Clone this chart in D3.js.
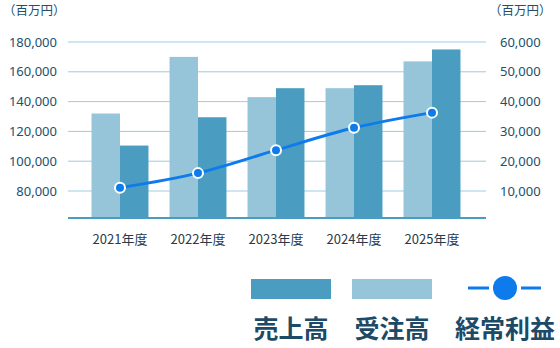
<!DOCTYPE html>
<meta charset="utf-8">
<style>
  body { margin: 0; background: #fff; }
  text { font-family: "Noto Sans CJK JP", "Noto Sans", sans-serif; }
  text.num { font-family: "Noto Sans", "Noto Sans CJK JP", sans-serif; }
</style>
<svg width="560" height="348"></svg>
<script src="https://d3js.org/d3.v7.min.js"></script>
<script>

    var years = ["2021年度", "2022年度", "2023年度", "2024年度", "2025年度"];
    var orders = [132000, 170000, 143000, 149000, 167000];   // 受注高
    var sales = [110500, 129500, 149000, 151000, 175000];    // 売上高
    var profit = [11100, 16000, 23700, 31200, 36300];        // 経常利益
    var leftTicks = [80000, 100000, 120000, 140000, 160000, 180000];
    var rightTicks = [10000, 20000, 30000, 40000, 50000, 60000];

    var svg = d3.select("svg");
    var darkBlue = "#4a9dc1",
        lightBlue = "#96c5da",
        lineBlue = "#0d7bec",
        textColor = "#21506d";

    var x = d3.scaleBand()
        .domain(years)
        .range([81, 471])
        .paddingInner(0.27)
        .paddingOuter(0.135);
    var x1 = d3.scaleBand()
        .domain(["orders", "sales"])
        .range([0, x.bandwidth()]);

    var yL = d3.scaleLinear().domain([60000, 180000]).range([220.8, 42]);
    var yR = d3.scaleLinear().domain([0, 60000]).range([220.8, 42]);
    var base = 218;

    // grid lines
    svg.append("g")
        .selectAll("line")
        .data(leftTicks)
        .enter().append("line")
        .attr("x1", 68).attr("x2", 486)
        .attr("y1", function(d) { return yL(d); })
        .attr("y2", function(d) { return yL(d); })
        .attr("stroke", "#9fcbdf")
        .attr("stroke-width", 1);

    // bars
    var groups = svg.append("g")
        .selectAll("g")
        .data(years)
        .enter().append("g")
        .attr("transform", function(d) { return "translate(" + x(d) + ",0)"; });

    groups.append("rect")
        .attr("x", x1("orders"))
        .attr("width", x1.bandwidth())
        .attr("y", function(d, i) { return yL(orders[i]); })
        .attr("height", function(d, i) { return base - yL(orders[i]); })
        .attr("fill", lightBlue);
    groups.append("rect")
        .attr("x", x1("sales"))
        .attr("width", x1.bandwidth())
        .attr("y", function(d, i) { return yL(sales[i]); })
        .attr("height", function(d, i) { return base - yL(sales[i]); })
        .attr("fill", darkBlue);

    // baseline
    svg.append("line")
        .attr("x1", 68).attr("x2", 486)
        .attr("y1", base).attr("y2", base)
        .attr("stroke", darkBlue)
        .attr("stroke-width", 2);

    // left axis labels
    svg.append("g")
        .selectAll("text")
        .data(leftTicks)
        .enter().append("text")
        .attr("class", "num")
        .attr("x", 57)
        .attr("y", function(d) { return yL(d) + 4.5; })
        .attr("text-anchor", "end")
        .attr("font-size", 13)
        .attr("fill", textColor)
        .text(d3.format(","));

    // right axis labels
    svg.append("g")
        .selectAll("text")
        .data(rightTicks)
        .enter().append("text")
        .attr("class", "num")
        .attr("x", 500)
        .attr("y", function(d) { return yR(d) + 4.5; })
        .attr("font-size", 13)
        .attr("fill", textColor)
        .text(d3.format(","));

    // units
    svg.append("text").attr("x", 3).attr("y", 15).attr("font-size", 12.5)
        .attr("fill", textColor).text("（百万円）");
    svg.append("text").attr("x", 489).attr("y", 15).attr("font-size", 12.5)
        .attr("fill", textColor).text("（百万円）");

    // x labels
    svg.append("g")
        .selectAll("text")
        .data(years)
        .enter().append("text")
        .attr("x", function(d) { return x(d) + x.bandwidth() / 2; })
        .attr("y", 244)
        .attr("text-anchor", "middle")
        .attr("font-size", 13)
        .attr("fill", "#2b3a48")
        .text(function(d) { return d; });

    // profit line
    var line = d3.line()
        .x(function(d, i) { return x(years[i]) + x.bandwidth() / 2; })
        .y(function(d) { return yR(d); })
        .curve(d3.curveMonotoneX);

    svg.append("path")
        .datum(profit)
        .attr("d", line)
        .attr("fill", "none")
        .attr("stroke", lineBlue)
        .attr("stroke-width", 3);

    svg.append("g")
        .selectAll("circle")
        .data(profit)
        .enter().append("circle")
        .attr("cx", function(d, i) { return x(years[i]) + x.bandwidth() / 2; })
        .attr("cy", function(d) { return yR(d); })
        .attr("r", 5)
        .attr("fill", lineBlue)
        .attr("stroke", "#fff")
        .attr("stroke-width", 2);

    // legend
    var legend = svg.append("g");
    legend.append("rect").attr("x", 251).attr("y", 279).attr("width", 80).attr("height", 20).attr("fill", darkBlue);
    legend.append("rect").attr("x", 352).attr("y", 279).attr("width", 80).attr("height", 20).attr("fill", lightBlue);
    legend.append("line").attr("x1", 468).attr("x2", 489).attr("y1", 288).attr("y2", 288)
        .attr("stroke", lineBlue).attr("stroke-width", 3);
    legend.append("line").attr("x1", 521).attr("x2", 541).attr("y1", 288).attr("y2", 288)
        .attr("stroke", lineBlue).attr("stroke-width", 3);
    legend.append("circle").attr("cx", 505).attr("cy", 288).attr("r", 12).attr("fill", lineBlue);

    var legendText = [["売上高", 291], ["受注高", 392], ["経常利益", 505]];
    legend.selectAll("text")
        .data(legendText)
        .enter().append("text")
        .attr("x", function(d) { return d[1]; })
        .attr("y", 338)
        .attr("text-anchor", "middle")
        .attr("font-size", 25)
        .attr("font-weight", "bold")
        .attr("fill", "#1d4a66")
        .text(function(d) { return d[0]; });
</script>
